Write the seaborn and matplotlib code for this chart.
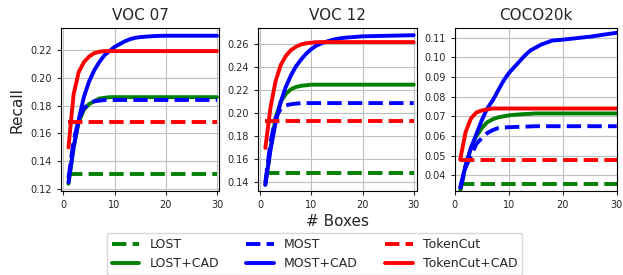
import matplotlib
matplotlib.use("Agg")
import matplotlib.pyplot as plt
import seaborn as sns
import pandas as pd
from matplotlib.lines import Line2D

# x positions (number of boxes)
boxes = [1, 2, 3, 4, 5, 6, 7, 8, 9, 10, 11, 12, 13, 14, 15, 16, 17, 18, 20, 25, 30]

# ---- VOC 07 ----
voc07_lost = [0.131] * 21
voc07_lost_cad = [0.124, 0.150, 0.168, 0.177, 0.181, 0.183, 0.185, 0.1855, 0.186, 0.186, 0.186,
                  0.186, 0.186, 0.186, 0.186, 0.186, 0.186, 0.186, 0.186, 0.186, 0.186]
voc07_most = [0.128, 0.155, 0.170, 0.178, 0.181, 0.183, 0.1835, 0.184, 0.184, 0.184, 0.184,
              0.184, 0.184, 0.184, 0.184, 0.184, 0.184, 0.184, 0.184, 0.184, 0.184]
voc07_most_cad = [0.125, 0.150, 0.170, 0.186, 0.197, 0.205, 0.211, 0.216, 0.219, 0.222, 0.224,
                  0.226, 0.2275, 0.2285, 0.229, 0.2293, 0.2296, 0.2298, 0.230, 0.230, 0.230]
voc07_tokencut = [0.168] * 21
voc07_tokencut_cad = [0.150, 0.188, 0.204, 0.211, 0.215, 0.2175, 0.2185, 0.219, 0.219, 0.219, 0.219,
                      0.219, 0.219, 0.219, 0.219, 0.219, 0.219, 0.219, 0.219, 0.219, 0.219]

# ---- VOC 12 ----
voc12_lost = [0.148] * 21
voc12_lost_cad = [0.138, 0.170, 0.196, 0.210, 0.217, 0.221, 0.223, 0.224, 0.2245, 0.225, 0.225,
                  0.225, 0.225, 0.225, 0.225, 0.225, 0.225, 0.225, 0.225, 0.225, 0.225]
voc12_most = [0.140, 0.175, 0.196, 0.204, 0.207, 0.208, 0.2085, 0.209, 0.209, 0.209, 0.209,
              0.209, 0.209, 0.209, 0.209, 0.209, 0.209, 0.209, 0.209, 0.209, 0.209]
voc12_most_cad = [0.138, 0.168, 0.192, 0.210, 0.223, 0.233, 0.241, 0.247, 0.252, 0.256, 0.259,
                  0.261, 0.2625, 0.2638, 0.2648, 0.2655, 0.266, 0.2663, 0.267, 0.2675, 0.268]
voc12_tokencut = [0.193] * 21
voc12_tokencut_cad = [0.170, 0.205, 0.228, 0.242, 0.250, 0.255, 0.258, 0.260, 0.261, 0.2615, 0.262,
                      0.262, 0.262, 0.262, 0.262, 0.262, 0.262, 0.262, 0.262, 0.262, 0.262]

# ---- COCO20k ----
coco_lost = [0.0355] * 21
coco_lost_cad = [0.032, 0.045, 0.054, 0.060, 0.064, 0.067, 0.0685, 0.0695, 0.070, 0.0705, 0.0708,
                 0.071, 0.0712, 0.0713, 0.0715, 0.0715, 0.0715, 0.0715, 0.0715, 0.0715, 0.0715]
coco_most = [0.033, 0.044, 0.050, 0.056, 0.059, 0.0615, 0.063, 0.064, 0.0643, 0.0645, 0.0646,
             0.0647, 0.0648, 0.0649, 0.065, 0.065, 0.065, 0.065, 0.065, 0.065, 0.065]
coco_most_cad = [0.034, 0.045, 0.054, 0.061, 0.068, 0.074, 0.078, 0.083, 0.088, 0.092, 0.095,
                 0.098, 0.101, 0.1035, 0.105, 0.1065, 0.1075, 0.1085, 0.109, 0.1105, 0.1125]
coco_tokencut = [0.048] * 21
coco_tokencut_cad = [0.048, 0.062, 0.069, 0.072, 0.073, 0.0735, 0.074, 0.074, 0.074, 0.074, 0.074,
                     0.074, 0.074, 0.074, 0.074, 0.074, 0.074, 0.074, 0.074, 0.074, 0.074]

methods = ["LOST", "LOST+CAD", "MOST", "MOST+CAD", "TokenCut", "TokenCut+CAD"]
colors = ["green", "green", "blue", "blue", "red", "red"]
styles = ["--", "-", "--", "-", "--", "-"]

voc07_ticks = [0.12, 0.14, 0.16, 0.18, 0.20, 0.22]
voc12_ticks = [0.14, 0.16, 0.18, 0.20, 0.22, 0.24, 0.26]
coco_ticks = [0.04, 0.05, 0.06, 0.07, 0.08, 0.09, 0.10, 0.11]

datasets = {
    "VOC 07": [voc07_lost, voc07_lost_cad, voc07_most, voc07_most_cad, voc07_tokencut, voc07_tokencut_cad],
    "VOC 12": [voc12_lost, voc12_lost_cad, voc12_most, voc12_most_cad, voc12_tokencut, voc12_tokencut_cad],
    "COCO20k": [coco_lost, coco_lost_cad, coco_most, coco_most_cad, coco_tokencut, coco_tokencut_cad],
}
yticks = {"VOC 07": voc07_ticks, "VOC 12": voc12_ticks, "COCO20k": coco_ticks}
ylims = {"VOC 07": (0.1187, 0.2355), "VOC 12": (0.1325, 0.2742), "COCO20k": (0.032, 0.1149)}
xlims = {"VOC 07": (-0.45, 30.45), "VOC 12": (-0.45, 30.6), "COCO20k": (0, 30)}

sns.set_style("ticks", {"axes.grid": True, "grid.color": "#b0b0b0", "axes.edgecolor": "black"})
plt.rcParams["font.family"] = ["DejaVu Sans"]

fig = plt.figure(figsize=(6.23, 2.75), dpi=100)
positions = [[0.098, 0.305, 0.254, 0.593],
             [0.414, 0.305, 0.255, 0.593],
             [0.730, 0.305, 0.260, 0.593]]

for pos, (name, series) in zip(positions, datasets.items()):
    ax = fig.add_axes(pos)
    for method, vals, c, ls in zip(methods, series, colors, styles):
        df = pd.DataFrame({"boxes": boxes, "recall": vals})
        sns.lineplot(data=df, x="boxes", y="recall", color=c, linestyle=ls,
                     linewidth=2.8, ax=ax)
    ax.set_title(name, fontsize=11)
    ax.set_xlim(*xlims[name])
    ax.set_ylim(*ylims[name])
    ax.set_xticks([0, 10, 20, 30])
    ax.set_yticks(yticks[name])
    ax.set_yticklabels([f"{t:.2f}" for t in yticks[name]])
    ax.tick_params(labelsize=7, length=3)
    ax.grid(True, color="#c0c0c0", linewidth=0.8)
    ax.set_xlabel("")
    ax.set_ylabel("")
    for sp in ax.spines.values():
        sp.set_visible(True)
        sp.set_color("black")
    if name == "VOC 07":
        ax.set_ylabel("Recall", fontsize=11)
    if name == "VOC 12":
        ax.set_xlabel("# Boxes", fontsize=11, labelpad=3)

handles = [Line2D([0], [0], color=c, linestyle=ls, linewidth=2.8) for c, ls in zip(colors, styles)]
fig.legend(handles, methods, loc="upper center", bbox_to_anchor=(0.505, 0.152), ncol=3,
           fontsize=9, columnspacing=2.2, handlelength=2.2, frameon=True, borderaxespad=0)

fig.savefig("out.png", dpi=100)
